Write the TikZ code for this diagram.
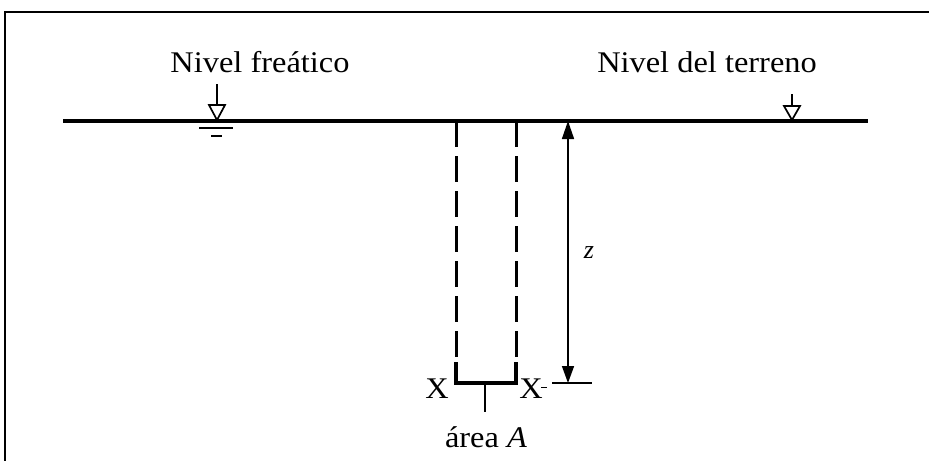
\documentclass[tikz,border=0pt]{standalone}
\usepackage{fontspec}
\setmainfont{Liberation Serif}
\usetikzlibrary{arrows.meta}
\newcommand\widetxt[1]{\scalebox{1.08}[1]{#1}}
\begin{document}
\begin{tikzpicture}[x=1pt,y=-1pt,
  lbl/.style={inner sep=0pt,anchor=base,font=\fontsize{30}{32}\selectfont},
  ground/.style={line width=3.2pt},
  thin/.style={line width=1.5pt},
  wedge/.style={line width=1.7pt,fill=white,line join=miter},
  pile/.style={line width=3pt,dash pattern=on 26pt off 9pt}]
\useasboundingbox (0,0) rectangle (929,461);
% frame
\draw[line width=2pt] (929,12) -- (5,12) -- (5,461);
% ground line
\coordinate (gL) at (63,121);
\coordinate (gR) at (868,121);
\draw[ground] (gL) -- (gR);
% labels
\node[lbl] (nf) at (260,72) {\widetxt{Nivel freático}};
\node[lbl] (nt) at (707,72) {\widetxt{Nivel del terreno}};
% water table symbol
\coordinate (wa) at (217,84);
\coordinate (wb) at (217,105);
\draw[thin] (wa) -- (wb);
\draw[wedge] (209,105) -- (225,105) -- (217,120) -- cycle;
\draw[line width=1.3pt] (199,128) -- (233,128);
\draw[line width=1.3pt] (211,136) -- (222,136);
% ground level symbol
\coordinate (ta) at (792,94);
\coordinate (tb) at (792,106);
\draw[thin] (ta) -- (tb);
\draw[wedge] (784,106) -- (800,106) -- (792,120) -- cycle;
% column
\coordinate (c1t) at (456,121);
\coordinate (c1b) at (456,362);
\coordinate (c2t) at (516,121);
\coordinate (c2b) at (516,362);
\coordinate (b1) at (456,383);
\coordinate (b2) at (516,383);
\draw[pile] (c1t) -- (c1b);
\draw[pile] (c2t) -- (c2b);
\draw[line width=3.5pt,line join=miter] (c1b) -- (b1) -- (b2) -- (c2b);
% area tick
\coordinate (am) at (485,383);
\coordinate (ab) at (485,412);
\draw[thin] (am) -- (ab);
\node[lbl] (area) at (486,447) {\widetxt{área \textit{A}}};
\node[lbl] (xl) at (437,398) {\widetxt{X}};
\node[lbl] (xr) at (531,398) {\widetxt{X}};
\draw[line width=1pt] (541,387) -- (547,387);
% dimension z
\coordinate (zt) at (568,121);
\coordinate (zb) at (568,383);
\coordinate (hl) at (552,383);
\coordinate (hr) at (592,383);
\draw[thin] (hl) -- (hr);
\draw[thin,{Triangle[length=18pt,width=12pt]}-{Triangle[length=17pt,width=12pt]}] (zt) -- (zb);
\node[lbl,font=\fontsize{26}{28}\selectfont] (z) at (589,258) {\textit{z}};
\end{tikzpicture}
\end{document}
